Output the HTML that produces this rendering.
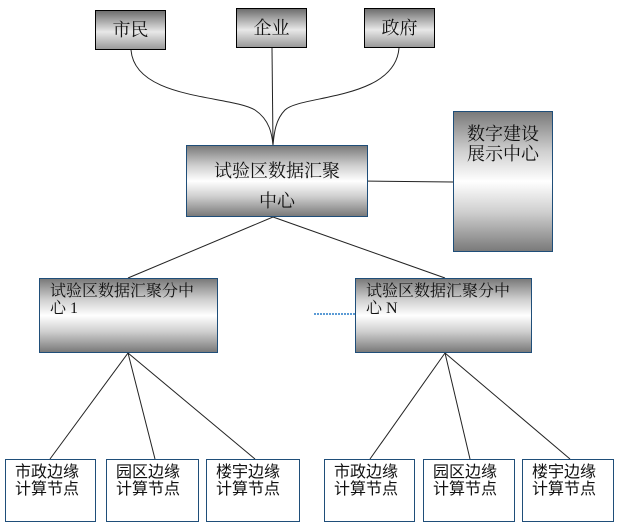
<!DOCTYPE html>
<html><head><meta charset="utf-8"><style>
body{margin:0;width:620px;height:530px;background:#fff;position:relative;overflow:hidden;font-family:"Liberation Serif","Noto Serif CJK SC","Noto Sans CJK SC",serif;color:#111}
.b{position:absolute;box-sizing:border-box;border:1.5px solid #1f4e79}
.g{background:linear-gradient(to bottom,#7a7a7a 0%,#cfcfcf 28%,#fff 50%,#cfcfcf 72%,#7a7a7a 100%)}
.t{position:absolute;border:1.5px solid #000;box-sizing:border-box;background:linear-gradient(to bottom,#6e6e6e 0%,#e8e8e8 55%,#9a9a9a 100%);text-align:center;font-size:18px;line-height:38px}
.l{background:#fff;font-family:"Liberation Sans","WenQuanYi Zen Hei",sans-serif;font-size:16px;line-height:17px;padding:4px 0 0 9px}
svg{position:absolute;left:0;top:0}
</style></head><body>
<svg width="620" height="530">
<g fill="none" stroke="#222" stroke-width="1">
<path d="M131 50 C135 100,230 95,255 110 C270 120,272 135,273 145"/>
<path d="M272 48 L273 145"/>
<path d="M399 48 C395 100,300 95,285 110 C275 120,274 135,273 145"/>
<line x1="360" y1="181" x2="453" y2="182"/>
<line x1="273" y1="217" x2="128" y2="278"/>
<line x1="273" y1="217" x2="445" y2="278"/>
<line x1="128" y1="353" x2="50" y2="459"/>
<line x1="128" y1="353" x2="155" y2="459"/>
<line x1="128" y1="353" x2="255" y2="459"/>
<line x1="445" y1="353" x2="370" y2="459"/>
<line x1="445" y1="353" x2="470" y2="459"/>
<line x1="445" y1="353" x2="570" y2="459"/>
</g>
<line x1="314" y1="314" x2="355" y2="314" stroke="#5b9bd5" stroke-width="2" stroke-dasharray="2,1"/>
</svg>
<div class="t" style="left:95px;top:10px;width:71px;height:40px">市民</div>
<div class="t" style="left:236px;top:8px;width:71px;height:40px">企业</div>
<div class="t" style="left:364px;top:8px;width:71px;height:40px">政府</div>
<div class="b g" style="left:186px;top:145px;width:182px;height:72px;text-align:center;font-size:18px;line-height:30px;padding-top:10px">试验区数据汇聚<br>中心</div>
<div class="b g" style="left:453px;top:111px;width:100px;height:141px;text-align:center;font-size:18px;line-height:20px;padding-top:12px">数字建设<br>展示中心</div>
<div class="b g" style="left:39px;top:278px;width:179px;height:75px;font-size:16px;line-height:17px;padding:4px 0 0 10px">试验区数据汇聚分中<br>心 1</div>
<div class="b g" style="left:355px;top:278px;width:177px;height:75px;font-size:16px;line-height:17px;padding:4px 0 0 10px">试验区数据汇聚分中<br>心 N</div>
<div class="b l" style="left:5px;top:459px;width:91px;height:63px">市政边缘<br>计算节点</div>
<div class="b l" style="left:106px;top:459px;width:93px;height:63px">园区边缘<br>计算节点</div>
<div class="b l" style="left:206px;top:459px;width:94px;height:63px">楼宇边缘<br>计算节点</div>
<div class="b l" style="left:324px;top:459px;width:91px;height:63px">市政边缘<br>计算节点</div>
<div class="b l" style="left:423px;top:459px;width:92px;height:63px">园区边缘<br>计算节点</div>
<div class="b l" style="left:522px;top:459px;width:92px;height:63px">楼宇边缘<br>计算节点</div>
</body></html>
